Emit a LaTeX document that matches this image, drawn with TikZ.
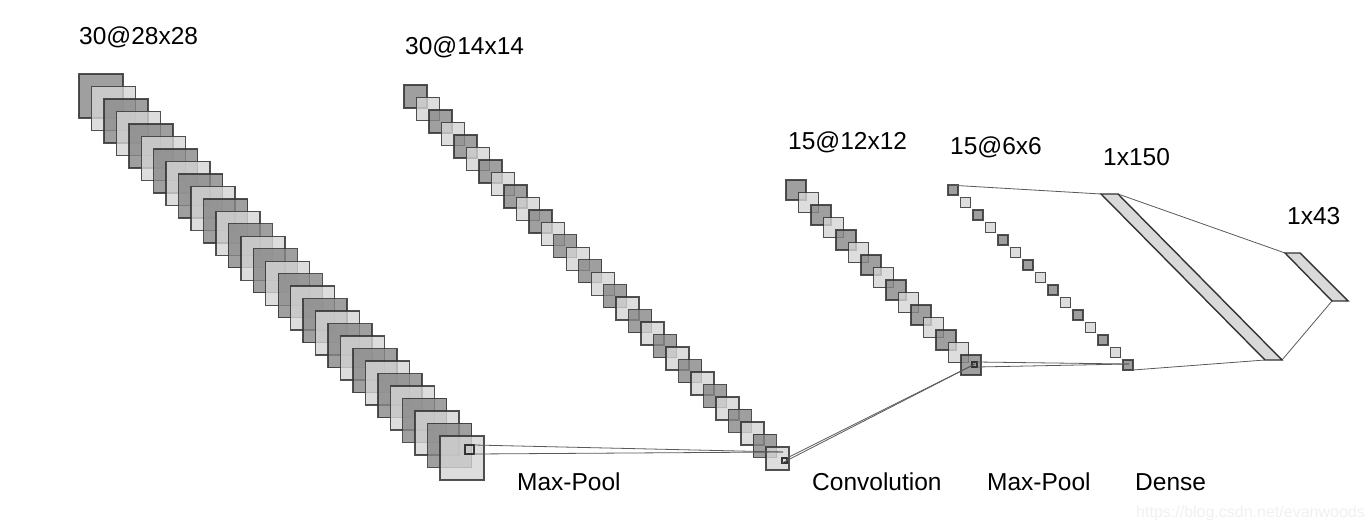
\documentclass[tikz,border=0pt]{standalone}
\usepackage{fontspec}
\setmainfont{Liberation Sans}
\begin{document}
\begin{tikzpicture}[x=1pt,y=-1pt,
  fmap/.style={draw=black!80, line width=1.4pt, draw opacity=0.85, fill opacity=0.8, inner sep=0pt, outer sep=0pt, anchor=north west, minimum width=#1, minimum height=#1},
  darkmap/.style={fmap=#1, fill=black!47},
  lightmap/.style={fmap=#1, fill=black!17},
  kernel/.style={draw=black!80, line width=1.2pt, inner sep=0pt, outer sep=0pt, anchor=north west, minimum width=#1, minimum height=#1},
  conn/.style={draw=black!65, line width=0.8pt},
  dense/.style={draw=black!80, line width=1.4pt, fill=black!15, line join=miter},
  lbl/.style={anchor=west, font=\fontsize{24.5}{29}\selectfont, text=black, inner sep=0pt}
]
\useasboundingbox (0,0) rectangle (1372,530);

% Layer 1: 30@28x28
\foreach \i in {0,...,29}{
  \pgfmathsetmacro{\px}{79+12.45*\i}
  \pgfmathsetmacro{\py}{74+12.48*\i}
  \pgfmathparse{int(mod(\i,2))}
  \ifnum\pgfmathresult=0
    \node[darkmap=44pt] (La\i) at (\px,\py) {};
  \else
    \node[lightmap=44pt] (La\i) at (\px,\py) {};
  \fi
}
% Layer 2: 30@14x14
\foreach \i in {0,...,29}{
  \pgfmathsetmacro{\px}{404+12.48*\i}
  \pgfmathsetmacro{\py}{85+12.48*\i}
  \pgfmathparse{int(mod(\i,2))}
  \ifnum\pgfmathresult=0
    \node[darkmap=23pt] (Lb\i) at (\px,\py) {};
  \else
    \node[lightmap=23pt] (Lb\i) at (\px,\py) {};
  \fi
}
% Layer 3: 15@12x12
\foreach \i in {0,...,14}{
  \pgfmathsetmacro{\px}{786+12.5*\i}
  \pgfmathsetmacro{\py}{180+12.5*\i}
  \pgfmathparse{int(mod(\i,2))}
  \ifnum\pgfmathresult=0
    \node[darkmap=20pt] (Lc\i) at (\px,\py) {};
  \else
    \node[lightmap=20pt] (Lc\i) at (\px,\py) {};
  \fi
}
% Layer 4: 15@6x6
\foreach \i in {0,...,14}{
  \pgfmathsetmacro{\px}{948+12.5*\i}
  \pgfmathsetmacro{\py}{185+12.5*\i}
  \pgfmathparse{int(mod(\i,2))}
  \ifnum\pgfmathresult=0
    \node[darkmap=10pt] (Ld\i) at (\px,\py) {};
  \else
    \node[lightmap=10pt] (Ld\i) at (\px,\py) {};
  \fi
}

% Kernels
\node[kernel=9pt] (ka) at (465,445) {};
\node[kernel=5pt] (kb) at (782,458) {};
\node[kernel=5pt] (kc) at (972,362) {};
\coordinate (pb) at (783,452);
\coordinate (pc) at (975,364);
\coordinate (pd) at (1129,364);

\draw[conn] (ka.north east) -- (pb);
\draw[conn] (ka.south east) -- (pb);
\draw[conn] (kb.north east) -- (pc);
\draw[conn] (kb.south west) -- (pc);
\draw[conn] (kc.north east) -- (pd);
\draw[conn] (kc.south east) -- (pd);

% Dense layers
\coordinate (da1) at (1101,194);
\coordinate (da2) at (1118,194);
\coordinate (da3) at (1282,360);
\coordinate (da4) at (1265,360);
\coordinate (db1) at (1285,253);
\coordinate (db2) at (1300,253);
\coordinate (db3) at (1348,301);
\coordinate (db4) at (1332,301);

\draw[conn] (Ld0.north west) -- (da1);
\draw[conn] (Ld14.south east) -- (da4);
\draw[conn] (da2) -- (db1);
\draw[conn] (da3) -- (db4);

\draw[dense] (da1) -- (da2) -- (da3) -- (da4) -- cycle;
\draw[dense] (db1) -- (db2) -- (db3) -- (db4) -- cycle;

% Labels
\node[lbl] (t1) at (79,37) {30@28x28};
\node[lbl] (t2) at (405,47) {30@14x14};
\node[lbl] (t3) at (788,142) {15@12x12};
\node[lbl] (t4) at (950,147) {15@6x6};
\node[lbl] (t5) at (1103,157) {1x150};
\node[lbl] (t6) at (1287,216) {1x43};
\node[lbl] (b1) at (517,482) {Max-Pool};
\node[lbl] (b2) at (812,482) {Convolution};
\node[lbl] (b3) at (987,482) {Max-Pool};
\node[lbl] (b4) at (1135,482) {Dense};
\node[anchor=west, inner sep=0pt, font=\fontsize{16}{19}\selectfont, text=black!6] (wm) at (1136,513) {https://blog.csdn.net/evanwoods};
\end{tikzpicture}
\end{document}
